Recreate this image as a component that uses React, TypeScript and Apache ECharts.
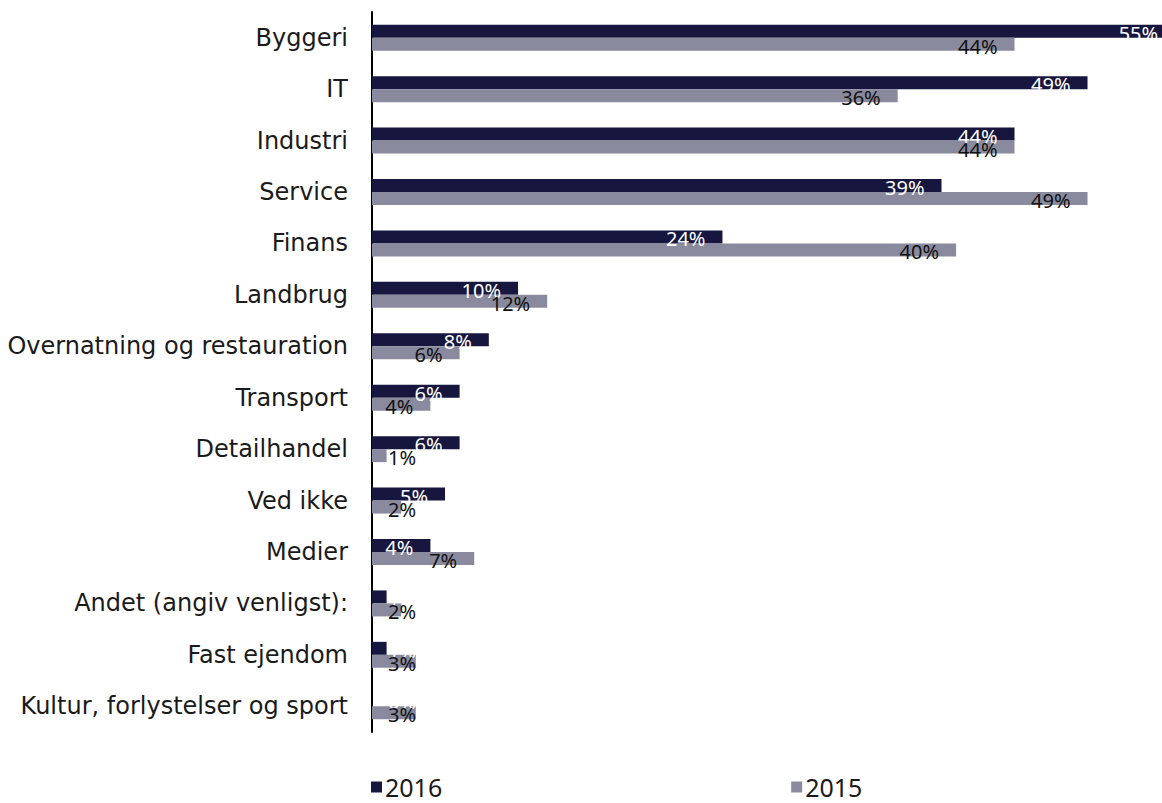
import React, { useEffect, useRef } from "react";
import * as echarts from "echarts";

const categories = [
  "Byggeri",
  "IT",
  "Industri",
  "Service",
  "Finans",
  "Landbrug",
  "Overnatning og restauration",
  "Transport",
  "Detailhandel",
  "Ved ikke",
  "Medier",
  "Andet (angiv venligst):",
  "Fast ejendom",
  "Kultur, forlystelser og sport",
];
const values2016 = [55, 49, 44, 39, 24, 10, 8, 6, 6, 5, 4, 1, 1, 0];
const values2015 = [44, 36, 44, 49, 40, 12, 6, 4, 1, 2, 7, 2, 3, 3];
const seriesNames = ["2016", "2015"];
const colors = ["#16163e", "#8a8a9e"];

function buildData(vals: number[]) {
  return vals.map((v) => ({
    value: v,
    label:
      v < 4
        ? { position: "insideLeft", distance: 16 }
        : { position: "insideRight", distance: 17 },
  }));
}

export default function App() {
  const ref = useRef<HTMLDivElement>(null);
  useEffect(() => {
    if (!ref.current) return;
    const chart = echarts.init(ref.current, undefined, { renderer: "svg" });
    chart.setOption({
      animation: false,
      color: colors,
      grid: { left: 372, top: 12, right: 0, bottom: 71 },
      xAxis: {
        type: "value",
        min: 0,
        max: 54.1,
        show: false,
      },
      yAxis: {
        type: "category",
        data: categories,
        inverse: true,
        axisLine: { show: true, lineStyle: { color: "#000", width: 2 } },
        axisTick: { show: false },
        splitLine: { show: false },
        axisLabel: {
          margin: 24,
          color: "#1a1a1a",
          fontFamily: "DejaVu Sans",
          fontSize: 24,
        },
      },
      legend: {
        data: seriesNames,
        left: 371,
        top: 773,
        padding: 0,
        itemGap: 349,
        itemWidth: 11,
        itemHeight: 11,
        icon: "rect",
        textStyle: {
          fontFamily: "Noto Sans",
          fontSize: 25,
          lineHeight: 28,
          color: "#1a1a1a",
          padding: [0, 0, 0, -2],
        },
      },
      series: [
        {
          name: seriesNames[0],
          type: "bar",
          barWidth: 13,
          barGap: "0%",
          clip: false,
          data: buildData(values2016),
          itemStyle: { color: colors[0] },
          label: {
            show: true,
            formatter: "{c}%",
            color: "#ffffff",
            fontFamily: "Noto Sans",
            fontSize: 20,
            offset: [0, 2],
          },
        },
        {
          name: seriesNames[1],
          type: "bar",
          barWidth: 13,
          barGap: "0%",
          clip: false,
          data: buildData(values2015),
          itemStyle: { color: colors[1] },
          label: {
            show: true,
            formatter: "{c}%",
            color: "#111111",
            fontFamily: "Noto Sans",
            fontSize: 20,
            offset: [0, 2],
          },
        },
      ],
    });
    return () => chart.dispose();
  }, []);
  return <div ref={ref} style={{ width: 1162, height: 803, position: "absolute", left: 0, top: 0 }} />;
}
